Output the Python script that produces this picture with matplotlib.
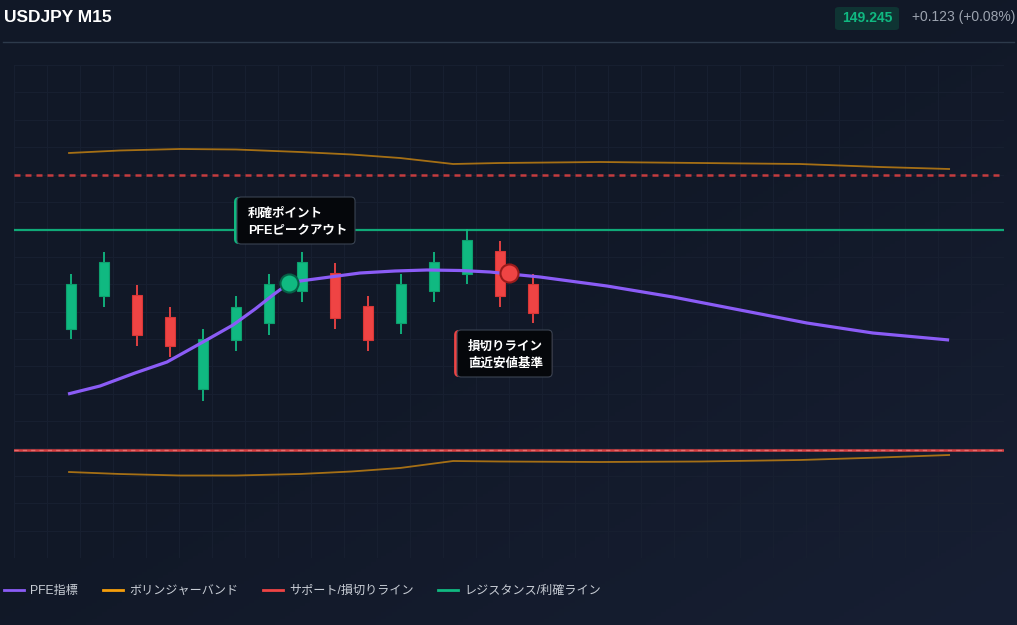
import numpy as np
import matplotlib
matplotlib.use("Agg")
import matplotlib.pyplot as plt
from matplotlib.lines import Line2D
from matplotlib.patches import FancyBboxPatch
from matplotlib.transforms import IdentityTransform

plt.rcParams['font.family'] = ['Liberation Sans', 'Noto Sans CJK JP', 'DejaVu Sans']

# ---- data ----
symbol = "USDJPY M15"
last_price = "149.245"
change_text = "+0.123 (+0.08%)"

opens  = [149.136, 149.169, 149.170, 149.148, 149.076, 149.125, 149.142, 149.174,
          149.192, 149.159, 149.142, 149.174, 149.191, 149.214, 149.181]
closes = [149.181, 149.203, 149.130, 149.119, 149.126, 149.158, 149.181, 149.203,
          149.147, 149.125, 149.181, 149.203, 149.225, 149.169, 149.152]
highs  = [149.191, 149.213, 149.180, 149.158, 149.136, 149.169, 149.191, 149.213,
          149.202, 149.169, 149.191, 149.213, 149.236, 149.224, 149.191]
lows   = [149.126, 149.158, 149.119, 149.108, 149.064, 149.114, 149.130, 149.163,
          149.136, 149.114, 149.131, 149.163, 149.181, 149.158, 149.142]

pfe_x = [-0.09, 0.88, 1.94, 2.91, 4.00, 4.91, 5.58, 6.12, 6.61, 6.94, 7.85, 8.76,
         9.82, 10.79, 11.79, 12.70, 13.30, 14.21, 16.24, 18.24, 20.27, 22.30, 24.30, 26.61]
pfe_y = [149.071, 149.079, 149.092, 149.103, 149.123, 149.140, 149.156, 149.170,
         149.182, 149.184, 149.188, 149.192, 149.194, 149.195, 149.1945, 149.193,
         149.191, 149.188, 149.179, 149.168, 149.155, 149.142, 149.132, 149.125]

bb_x = [-0.06, 1.48, 3.30, 5.0, 6.94, 8.5, 9.97, 11.58, 13.00, 16.03, 19.06, 22.09, 24.52, 26.61]
bb_upper = [149.312, 149.3145, 149.316, 149.3155, 149.313, 149.3105, 149.307, 149.301,
            149.302, 149.303, 149.302, 149.301, 149.298, 149.296]
bb_lower = [148.993, 148.991, 148.9895, 148.9895, 148.991, 148.9935, 148.997, 149.004,
            149.0035, 149.003, 149.0035, 149.005, 149.0075, 149.010]

resistance = 149.235
stop_dashed = 149.290
support = 149.015

take_profit = (6.61, 149.182)
stop_loss = (13.27, 149.192)

legend_labels = ["PFE指標", "ボリンジャーバンド", "サポート/損切りライン", "レジスタンス/利確ライン"]

GREEN = "#10b981"
RED = "#ef4444"
PURPLE = "#8b5cf6"
ORANGE = "#f59e0b"
BG = "#111827"

W, H = 1017, 625
fig = plt.figure(figsize=(W / 100, H / 100), dpi=100)
fig.patch.set_facecolor(BG)

# subtle background gradient
bg_ax = fig.add_axes([0, 0, 1, 1], zorder=-10)
gx, gy = np.meshgrid(np.linspace(0, 1, 200), np.linspace(0, 1, 200))
g = np.clip((gx + gy - 0.9) / 1.1, 0, 1)
c0 = np.array([0x11, 0x18, 0x27]) / 255
c1 = np.array([0x17, 0x1f, 0x33]) / 255
img = c0 + (c1 - c0) * g[..., None]
bg_ax.imshow(img, aspect='auto', extent=[0, 1, 0, 1], origin='upper')
bg_ax.axis('off')

ax = fig.add_axes([14 / W, (H - 558) / H, 990 / W, 493 / H])
ax.set_facecolor('none')
xmin, xmax = -1.727, 28.273
ymin, ymax = 148.907, 149.400
ax.set_xlim(xmin, xmax)
ax.set_ylim(ymin, ymax)
ax.set_xticks(np.arange(xmin, xmax + 0.01, 1))
ax.set_yticks(np.linspace(ymin, ymax, 19))
ax.grid(True, color="#182031", lw=0.7)
ax.tick_params(length=0, labelbottom=False, labelleft=False)
for s in ax.spines.values():
    s.set_visible(False)

# bands
ax.plot(bb_x, bb_upper, color=ORANGE, lw=1.3, alpha=0.65, zorder=2)
ax.plot(bb_x, bb_lower, color=ORANGE, lw=1.3, alpha=0.65, zorder=2)

# horizontal levels
ax.axhline(resistance, color=GREEN, lw=1.6, alpha=0.9, zorder=2)
ax.hlines(stop_dashed, xmin, 28.15, color=RED, lw=1.8, alpha=0.8,
          linestyles=(0, (2.4, 2.0)), zorder=2)
ax.axhline(support, color=RED, lw=1.8, alpha=0.9, zorder=2)
ax.axhline(support, color="#fca5a5", lw=1.0, alpha=0.45, ls=(0, (3, 3)), zorder=2)

# candles
xs = np.arange(len(opens))
o = np.array(opens)
c = np.array(closes)
cols = [GREEN if cc >= oo else RED for oo, cc in zip(o, c)]
ax.vlines(xs, lows, highs, colors=cols, lw=1.3, zorder=3)
ax.bar(xs, np.abs(c - o), bottom=np.minimum(o, c), width=0.3, color=cols,
       edgecolor=["#0e9f6e" if cl == GREEN else "#d93636" for cl in cols],
       lw=0.8, zorder=4)

# PFE
ax.plot(pfe_x, pfe_y, color=PURPLE, lw=2.3, solid_capstyle='butt', zorder=5)
ax.plot(*take_profit, 'o', ms=13, mfc=GREEN, mec="#065f46", mew=1.5, zorder=6)
ax.plot(*stop_loss, 'o', ms=13, mfc=RED, mec="#991b1b", mew=1.5, zorder=6)


def callout(anchor, w, h, accent, lines):
    x0, ytop = ax.transData.transform(anchor)
    fig.add_artist(FancyBboxPatch((x0, ytop - h), w, h,
                                  boxstyle="round,pad=0,rounding_size=5",
                                  fc=accent, ec="none", transform=IdentityTransform(), zorder=10))
    fig.add_artist(FancyBboxPatch((x0 + 3, ytop - h), w - 3, h,
                                  boxstyle="round,pad=0,rounding_size=4",
                                  fc="#05070b", ec="#3a4352", lw=0.8,
                                  transform=IdentityTransform(), zorder=11))
    for i, t in enumerate(lines):
        fig.text(x0 + 14, ytop - 17 - 17 * i, t, transform=IdentityTransform(),
                 color="white", fontsize=9, fontweight='bold', va='center', ha='left', zorder=12)


callout((4.94, 149.268), 121, 47, GREEN, ["利確ポイント", "PFEピークアウト"])
callout((11.61, 149.135), 98, 47, RED, ["損切りライン", "直近安値基準"])

# header
fig.text(4 / W, 1 - 18 / H, symbol, color="white", fontsize=12.5, fontweight='bold',
         va='center', ha='left')
fig.add_artist(FancyBboxPatch((835 / W, 1 - 30 / H), 64 / W, 23 / H,
                              boxstyle="round,pad=0,rounding_size=0.004",
                              fc="#0f3433", ec="none", transform=fig.transFigure))
fig.text(867 / W, 1 - 18.5 / H, last_price, color=GREEN, fontsize=10, fontweight='bold',
         va='center', ha='center')
fig.text(1015 / W, 1 - 17 / H, change_text, color="#9ca3af", fontsize=10,
         va='center', ha='right')
fig.add_artist(Line2D([3 / W, 1014 / W], [1 - 42 / H, 1 - 42 / H], color="#2d3a4b", lw=1))

# legend
handles = [Line2D([], [], color=cl, lw=2) for cl in [PURPLE, ORANGE, RED, GREEN]]
leg = fig.legend(handles, legend_labels, loc='center left', bbox_to_anchor=(2 / W, 1 - 591 / H),
                 ncol=4, frameon=False, fontsize=8.7, handlelength=1.65, handletextpad=0.5,
                 columnspacing=2.05, borderpad=0.2, borderaxespad=0)
for t in leg.get_texts():
    t.set_color("#c9ced6")

fig.savefig("out.png", dpi=100, facecolor=BG)
